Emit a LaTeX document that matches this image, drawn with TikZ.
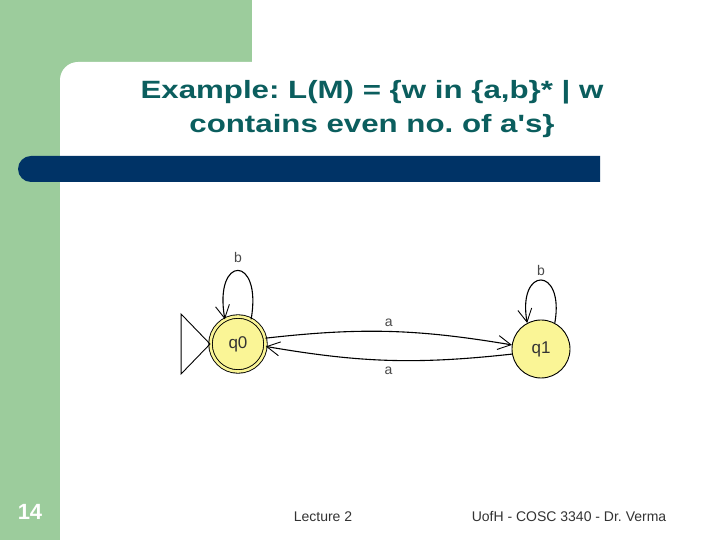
\documentclass[tikz,border=0pt]{standalone}
\usepackage{fontspec}
\setmainfont{Liberation Sans}
\newfontfamily\wideface[FakeStretch=1.25]{Liberation Sans}
\usepackage{xcolor}
\definecolor{SlideGreen}{HTML}{9CCC9C}
\definecolor{BarBlue}{HTML}{003366}
\definecolor{TitleTeal}{HTML}{0B5E5E}
\definecolor{StateYellow}{HTML}{FAF596}
\definecolor{LabelGrey}{HTML}{4A4A4A}
\definecolor{FootGrey}{HTML}{333333}
\usepackage{tikz}
\usetikzlibrary{arrows.meta, positioning, calc}
\tikzstyle{state} = [circle, draw=black, fill=StateYellow, line width=0.9pt, minimum size=58pt, inner sep=0pt, font=\fontsize{17}{19}\selectfont, text=black!80]
\tikzstyle{accepting} = [double=StateYellow, double distance=2.6pt, minimum size=55pt]
\tikzstyle{edge} = [line width=1.1pt, -{Straight Barb[length=13pt,width=14pt,line width=0.9pt]}]
\tikzstyle{lbl} = [font=\fontsize{14}{16}\selectfont, text=LabelGrey, inner sep=1.5pt]
\tikzstyle{foot} = [font=\fontsize{14}{16}\selectfont, text=FootGrey]

\begin{document}
\frenchspacing
\begin{tikzpicture}[x=1pt, y=1pt]
        \useasboundingbox (0,0) rectangle (720,540);

        % --- slide background ---
        \fill[white] (0,0) rectangle (720,540);
        \fill[SlideGreen] (0,0) rectangle (60,540);
        \fill[SlideGreen] (0,430) rectangle (252,540);
        \fill[white] (60,-20) [rounded corners=18pt] -- (60,478) [sharp corners] -- (740,478) -- (740,-20) -- cycle;
        \fill[BarBlue] (600,358) -- (31,358) arc (270:90:13) -- (600,384) -- cycle;

        % --- title ---
        \node[align=center, text=TitleTeal, font=\wideface\bfseries\fontsize{25}{34}\selectfont] (title) at (372,431) {Example: L(M) = \{w in \{a,b\}* | w\\contains even no. of a's\}};

        % --- automaton ---
        \node[state, accepting] (q0) at (238,196) {q0};
        \node[state] (q1) at (541,191) {q1};

        % start marker
        \draw[line width=0.9pt] (q0.west) -- ++(-29,30) -- ++(0,-60) -- cycle;

        % transitions
        \draw[edge] (q0.62) .. controls +(80:66) and +(100:66) .. node[lbl, above=6pt] (b0) {b} (q0.118);
        \draw[edge] (q1.62) .. controls +(80:58) and +(100:58) .. node[lbl, above=2pt] (b1) {b} (q1.118);
        \draw[edge] (q0.12) to[bend left=8] node[lbl, above=3pt] (a01) {a} (q1.172);
        \draw[edge] (q1.190) to[bend left=8] node[lbl, below=5pt] (a10) {a} (q0.-5);

        % --- footer ---
        \node[text=white, font=\bfseries\fontsize{22}{24}\selectfont] (pagenum) at (30,28) {14};
        \node[foot] (lecture) at (323,23) {Lecture 2};
        \node[foot] (course) at (569,23) {UofH - COSC 3340 - Dr. Verma};
    \end{tikzpicture}
\end{document}
